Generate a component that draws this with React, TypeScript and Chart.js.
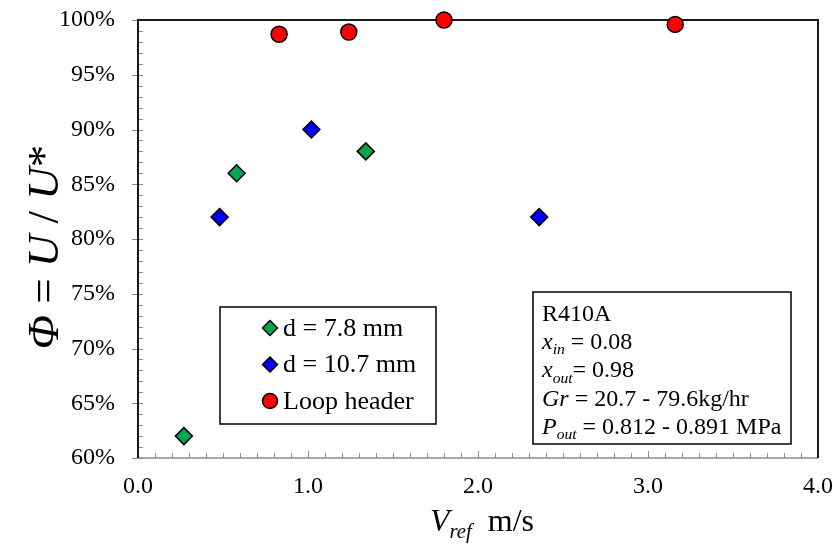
import React, { useEffect, useRef } from 'react';
import { Chart, registerables } from 'chart.js';
Chart.register(...registerables);

// ---- data ----
const seriesNames = ['d = 7.8 mm', 'd = 10.7 mm', 'Loop header'];
const d78X = [0.27, 0.58, 1.34];
const d78Y = [62, 86, 88];
const d107X = [0.48, 1.02, 2.36];
const d107Y = [82, 90, 82];
const loopX = [0.83, 1.24, 1.8, 3.16];
const loopY = [98.7, 98.9, 100, 99.6];
const xMin = 0, xMax = 4, xStep = 1;
const yMin = 60, yMax = 100, yStep = 5;

type Seg = { t: string; i?: boolean; sub?: boolean };
const infoLines: Seg[][] = [
  [{ t: 'R410A' }],
  [{ t: 'x', i: true }, { t: 'in', i: true, sub: true }, { t: ' = 0.08' }],
  [{ t: 'x', i: true }, { t: 'out', i: true, sub: true }, { t: '= 0.98' }],
  [{ t: 'Gr', i: true }, { t: ' = 20.7 - 79.6kg/hr' }],
  [{ t: 'P', i: true }, { t: 'out', i: true, sub: true }, { t: ' = 0.812 - 0.891 MPa' }],
];
const xTitle: Seg[] = [{ t: 'V', i: true }, { t: 'ref', i: true, sub: true }, { t: '  m/s' }];
const yTitle: Seg[] = [{ t: 'Φ', i: true }, { t: ' = ' }, { t: 'U', i: true }, { t: ' / ' }, { t: 'U', i: true }, { t: '*' }];

const FONT = '"Liberation Serif", "Times New Roman", serif';
const colors = ['#00A650', '#0000FF', '#FF0000'];
const styles = ['rectRot', 'rectRot', 'circle'];

function segFont(s: Seg, size: number) {
  const sz = s.sub ? size * 0.65 : size;
  return `${s.i ? 'italic ' : ''}${sz}px ${FONT}`;
}
function richWidth(ctx: CanvasRenderingContext2D, segs: Seg[], size: number) {
  let w = 0;
  for (const s of segs) { ctx.font = segFont(s, size); w += ctx.measureText(s.t).width; }
  return w;
}
function drawRich(ctx: CanvasRenderingContext2D, segs: Seg[], x: number, y: number, size: number) {
  ctx.textBaseline = 'alphabetic';
  ctx.textAlign = 'left';
  let cx = x;
  for (const s of segs) {
    ctx.font = segFont(s, size);
    ctx.fillText(s.t, cx, s.sub ? y + size * 0.22 : y);
    cx += ctx.measureText(s.t).width;
  }
}
function marker(ctx: CanvasRenderingContext2D, style: string, x: number, y: number, r: number, fill: string) {
  ctx.save();
  ctx.beginPath();
  if (style === 'circle') ctx.arc(x, y, r, 0, Math.PI * 2);
  else { ctx.moveTo(x - r, y); ctx.lineTo(x, y - r); ctx.lineTo(x + r, y); ctx.lineTo(x, y + r); ctx.closePath(); }
  ctx.fillStyle = fill; ctx.fill();
  ctx.lineWidth = 1.5; ctx.strokeStyle = '#000'; ctx.stroke();
  ctx.restore();
}

const decorPlugin = {
  id: 'decor',
  beforeDatasetsDraw(chart: any) {
    const { ctx, chartArea: a, scales } = chart;
    const xs = scales.x, ys = scales.y;
    ctx.save();
    ctx.strokeStyle = '#8c8c8c';
    ctx.lineWidth = 1;
    for (let v = yMin; v <= yMax + 1e-9; v += 1) {
      const py = Math.round(ys.getPixelForValue(v)) + 0.5;
      const major = Math.abs(v % yStep) < 1e-9;
      ctx.beginPath();
      ctx.moveTo(a.left - (major ? 6 : 0), py);
      ctx.lineTo(a.left + 5, py);
      ctx.stroke();
    }
    for (let k = 0; k <= (xMax - xMin) * 10; k++) {
      const v = xMin + k / 10;
      const px = Math.round(xs.getPixelForValue(v)) + 0.5;
      const major = k % 10 === 0;
      ctx.beginPath();
      ctx.moveTo(px, a.bottom);
      ctx.lineTo(px, a.bottom - (major ? 7 : 5));
      ctx.stroke();
    }
    ctx.lineWidth = 1.5;
    ctx.strokeStyle = '#8c8c8c';
    ctx.beginPath(); ctx.moveTo(a.left, a.bottom); ctx.lineTo(a.right, a.bottom); ctx.stroke();
    ctx.lineWidth = 2;
    ctx.strokeStyle = '#1a1a1a';
    ctx.beginPath();
    ctx.moveTo(a.left, a.bottom); ctx.lineTo(a.left, a.top); ctx.lineTo(a.right, a.top); ctx.lineTo(a.right, a.bottom);
    ctx.stroke();
    ctx.restore();
  },
  afterDraw(chart: any) {
    const { ctx, chartArea: a } = chart;
    ctx.save();
    // legend box
    const lx = a.left + 82, ly = a.top + 287, lw = 216, lh = 117;
    ctx.fillStyle = '#fff'; ctx.fillRect(lx, ly, lw, lh);
    ctx.strokeStyle = '#000'; ctx.lineWidth = 1.5; ctx.strokeRect(lx, ly, lw, lh);
    chart.data.datasets.forEach((ds: any, i: number) => {
      const cy = ly + 21 + i * 36.5;
      marker(ctx, ds.pointStyle, lx + 50, cy, 7.5, ds.backgroundColor);
      ctx.fillStyle = '#000';
      ctx.font = `26px ${FONT}`;
      ctx.textBaseline = 'middle'; ctx.textAlign = 'left';
      ctx.fillText(ds.label, lx + 63, cy + 1);
    });
    // info box
    const bx = a.left + 395, by = a.top + 272, bw = 258, bh = 152;
    ctx.fillStyle = '#fff'; ctx.fillRect(bx, by, bw, bh);
    ctx.strokeStyle = '#000'; ctx.lineWidth = 1.5; ctx.strokeRect(bx, by, bw, bh);
    ctx.fillStyle = '#000';
    infoLines.forEach((segs, i) => drawRich(ctx, segs, bx + 9, by + 29 + i * 28.2, 24));
    // axis titles
    const xsz = 32;
    const xw = richWidth(ctx, xTitle, xsz);
    drawRich(ctx, xTitle, (a.left + a.right) / 2 - xw / 2 + 4, 531, xsz);
    const ysz = 45;
    const yw = richWidth(ctx, yTitle, ysz);
    ctx.save();
    ctx.translate(58, (a.top + a.bottom) / 2 + 8);
    ctx.rotate(-Math.PI / 2);
    drawRich(ctx, yTitle, -yw / 2, 0, ysz);
    ctx.restore();
    ctx.restore();
  },
};

export default function App() {
  const ref = useRef<HTMLCanvasElement>(null);
  useEffect(() => {
    const mk = (xs: number[], ys: number[]) => xs.map((x, i) => ({ x, y: ys[i] }));
    const sets = [mk(d78X, d78Y), mk(d107X, d107Y), mk(loopX, loopY)];
    const chart = new Chart(ref.current!, {
      type: 'scatter',
      data: {
        datasets: sets.map((d, i) => ({
          label: seriesNames[i],
          data: d,
          pointStyle: styles[i] as any,
          pointRadius: i === 2 ? 8 : 8.5,
          pointHoverRadius: i === 2 ? 8 : 8.5,
          backgroundColor: colors[i],
          borderColor: '#000',
          pointBorderWidth: 1.5,
          clip: false as any,
        })),
      },
      options: {
        animation: false,
        responsive: false,
        devicePixelRatio: 1,
        layout: { padding: { top: 20, right: 15, left: 0, bottom: 0 } },
        plugins: { legend: { display: false }, tooltip: { enabled: false } },
        scales: {
          x: {
            type: 'linear', min: xMin, max: xMax,
            afterFit: (s: any) => { s.height = 86; s.paddingLeft = 0; s.paddingRight = 0; },
            ticks: { stepSize: xStep, color: '#000', font: { family: FONT, size: 24 }, padding: 14, callback: (v: any) => Number(v).toFixed(1), maxRotation: 0 },
            grid: { display: false, drawTicks: false },
            border: { display: false },
          },
          y: {
            type: 'linear', min: yMin, max: yMax,
            afterFit: (s: any) => { s.width = 138; s.paddingTop = 0; s.paddingBottom = 0; },
            ticks: { stepSize: yStep, color: '#000', font: { family: FONT, size: 24 }, padding: 23, callback: (v: any) => `${v}%` },
            grid: { display: false, drawTicks: false },
            border: { display: false },
          },
        },
      },
      plugins: [decorPlugin],
    });
    return () => chart.destroy();
  }, []);
  return (
    <div style={{ position: 'absolute', left: 0, top: 0, width: 833, height: 544, background: '#fff' }}>
      <canvas ref={ref} width={833} height={544} style={{ display: 'block' }} />
    </div>
  );
}
